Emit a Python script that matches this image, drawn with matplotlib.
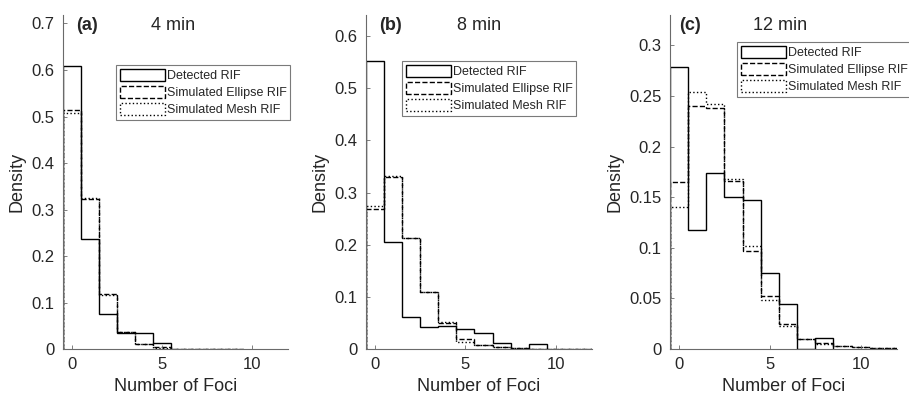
import numpy as np
import matplotlib
matplotlib.use("Agg")
import matplotlib.pyplot as plt
import matplotlib.patches as mpatches

plt.rcParams["font.family"] = ["Liberation Sans", "DejaVu Sans"]

# histogram heights per bin (bin k centred on k foci)
a_detected = [0.608, 0.237, 0.075, 0.035, 0.035, 0.013]
a_ellipse = [0.515, 0.322, 0.118, 0.037, 0.010, 0.004, 0.001, 0.0006, 0.0004, 0.0003]
a_mesh = [0.508, 0.325, 0.117, 0.036, 0.011, 0.003, 0.001, 0.0006, 0.0004, 0.0003]

b_detected = [0.553, 0.205, 0.062, 0.043, 0.045, 0.038, 0.031, 0.012, 0.0, 0.010]
b_ellipse = [0.268, 0.330, 0.212, 0.110, 0.049, 0.019, 0.008, 0.003, 0.002, 0.001, 0.001, 0.0006, 0.0004]
b_mesh = [0.275, 0.332, 0.212, 0.110, 0.051, 0.014, 0.007, 0.003, 0.002, 0.001, 0.001, 0.0006, 0.0004]

c_detected = [0.279, 0.118, 0.174, 0.150, 0.147, 0.075, 0.045, 0.0, 0.011]
c_ellipse = [0.165, 0.240, 0.238, 0.166, 0.097, 0.052, 0.025, 0.010, 0.006, 0.003, 0.002, 0.0015, 0.001]
c_mesh = [0.140, 0.254, 0.242, 0.168, 0.102, 0.048, 0.023, 0.010, 0.005, 0.003, 0.002, 0.0015, 0.001]

panel_tags = ["(a)", "(b)", "(c)"]
panel_times = ["4 min", "8 min", "12 min"]
y_limits = [0.718, 0.64, 0.33]
y_ticks = [
    [0, 0.1, 0.2, 0.3, 0.4, 0.5, 0.6, 0.7],
    [0, 0.1, 0.2, 0.3, 0.4, 0.5, 0.6],
    [0, 0.05, 0.1, 0.15, 0.2, 0.25, 0.3],
]
x_ticks = [0, 5, 10]
series_names = ["Detected RIF", "Simulated Ellipse RIF", "Simulated Mesh RIF"]
series_styles = ["-", "--", ":"]

data = [
    (a_detected, a_ellipse, a_mesh),
    (b_detected, b_ellipse, b_mesh),
    (c_detected, c_ellipse, c_mesh),
]

# axes boxes in figure fractions (left, bottom, width, height)
axes_boxes = [
    (0.0693, 0.123, 0.2475, 0.839),
    (0.4026, 0.123, 0.2486, 0.839),
    (0.7371, 0.123, 0.2497, 0.839),
]
legend_anchors = [(0.236, 0.85), (0.159, 0.862), (0.296, 0.919)]
time_x = [0.49, 0.50, 0.485]
tag_x = [0.058, 0.058, 0.040]

axis_col = "#6a6a6a"
text_col = "#262626"

fig = plt.figure(figsize=(9.09, 3.98), dpi=100)

for i in range(3):
    ax = fig.add_axes(axes_boxes[i])
    for values, ls in zip(data[i], series_styles):
        edges = np.arange(len(values) + 1) - 0.5
        ax.stairs(values, edges, color="black", linestyle=ls, linewidth=1.0)

    ax.set_xlim(-0.5, 12)
    ax.set_ylim(0, y_limits[i])
    ax.set_xticks(x_ticks)
    ax.set_yticks(y_ticks[i])
    ax.set_yticklabels(["%g" % t for t in y_ticks[i]])

    ax.spines["top"].set_visible(False)
    ax.spines["right"].set_visible(False)
    for s in ["left", "bottom"]:
        ax.spines[s].set_color(axis_col)
        ax.spines[s].set_linewidth(0.8)
    ax.tick_params(direction="in", length=3, width=0.6, color=axis_col,
                   labelsize=12, labelcolor=text_col, pad=6)

    ax.set_xlabel("Number of Foci", fontsize=13, color=text_col, labelpad=4)
    ax.set_ylabel("Density", fontsize=13, color=text_col, labelpad=4)

    ax.text(tag_x[i], 0.97, panel_tags[i], transform=ax.transAxes,
            fontsize=13, fontweight="bold", color=text_col,
            ha="left", va="center")
    ax.text(time_x[i], 0.97, panel_times[i], transform=ax.transAxes,
            fontsize=13, color=text_col, ha="center", va="center")

    handles = [
        mpatches.Patch(facecolor="white", edgecolor="black", linestyle=ls,
                       linewidth=1.0)
        for ls in series_styles
    ]
    leg = ax.legend(handles, series_names, loc="upper left",
                    bbox_to_anchor=legend_anchors[i], borderaxespad=0,
                    fontsize=9, handlelength=3.6, handleheight=1.1,
                    handletextpad=0.15, labelspacing=0.3, borderpad=0.3,
                    fancybox=False, framealpha=1, edgecolor="#7a7a7a")
    leg.get_frame().set_linewidth(0.8)
    for t in leg.get_texts():
        t.set_color(text_col)

fig.savefig("out.png", dpi=100)
